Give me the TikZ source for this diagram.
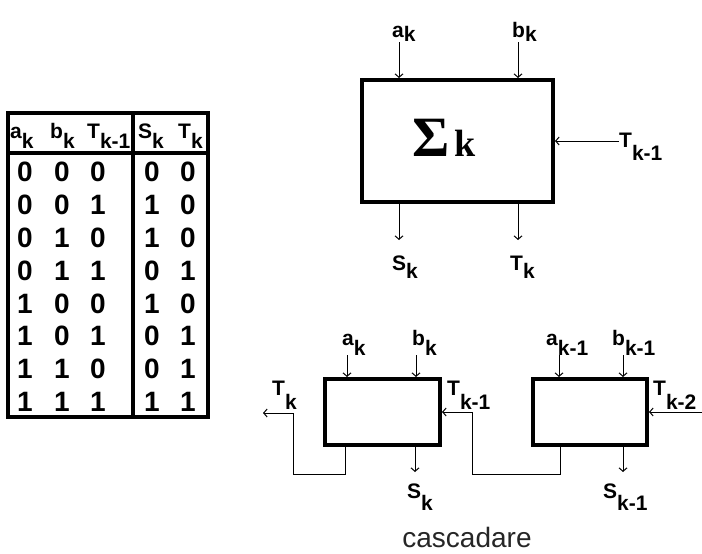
\documentclass[tikz,border=0pt]{standalone}
\usepackage{fontspec}
\setmainfont{Liberation Sans}
\newfontfamily\serifb{Liberation Serif}
\usetikzlibrary{arrows.meta}
\newcommand{\lsub}[3]{#2\raisebox{-#1}{#3}}
\begin{document}
\begin{tikzpicture}[x=1pt,y=-1pt,
  lab/.style={font=\bfseries\fontsize{21}{23}\selectfont, inner sep=0pt, anchor=base west},
  dig/.style={font=\bfseries\fontsize{28}{30}\selectfont, inner sep=0pt},
  arr/.style={line width=1pt, -{Straight Barb[length=3.5pt,width=8pt]}},
  wire/.style={line width=1pt},
  blk/.style={draw, line width=4pt, inner sep=0pt},
  tab/.style={line width=3.5pt},
  captxt/.style={font=\fontsize{28}{30}\selectfont, text=black!85, inner sep=0pt, anchor=base}
]
\useasboundingbox (0,0) rectangle (702,554);

% ---------- truth table ----------
\draw[tab] (8,113) rectangle (208,417);
\draw[tab] (8,153) -- (208,153);
\draw[tab] (133,113) -- (133,417);
\node[lab] (ha) at (10,138) {\lsub{10pt}{a}{k}};
\node[lab] (hb) at (50,138) {\lsub{10pt}{b}{k}};
\node[lab] (ht) at (87,138) {\lsub{10pt}{T}{k-1}};
\node[lab] (hs) at (138,138) {\lsub{10pt}{S}{k}};
\node[lab] (htk) at (178,138) {\lsub{10pt}{T}{k}};
\foreach \a/\b/\c/\s/\t [count=\i from 0] in
  {0/0/0/0/0, 0/0/1/1/0, 0/1/0/1/0, 0/1/1/0/1,
   1/0/0/1/0, 1/0/1/0/1, 1/1/0/0/1, 1/1/1/1/1} {
  \node[dig] (r\i-1) at (25,{172+32.86*\i}) {\a};
  \node[dig] (r\i-2) at (62,{172+32.86*\i}) {\b};
  \node[dig] (r\i-3) at (98,{172+32.86*\i}) {\c};
  \node[dig] (r\i-4) at (152,{172+32.86*\i}) {\s};
  \node[dig] (r\i-5) at (188,{172+32.86*\i}) {\t};
}

% ---------- single adder ----------
\node[blk, minimum width=191pt, minimum height=122pt] (sum) at (457.5,141) {};
\node[anchor=base west, inner sep=0pt, font=\serifb\bfseries\fontsize{57}{57}\selectfont]
  (sig) at (412,156) {Σ\hspace{5pt}{\fontsize{38}{38}\selectfont k}};
\node[lab] (ta) at (392,37) {\lsub{5pt}{a}{k}};
\node[lab] (tb) at (512,37) {\lsub{5pt}{b}{k}};
\node[lab] (tt) at (619,147) {\lsub{13pt}{T}{k-1}};
\node[lab] (ts) at (392,270) {\lsub{8pt}{S}{k}};
\node[lab] (ttk) at (510,270) {\lsub{8pt}{T}{k}};
\coordinate (xa) at (399,0);
\coordinate (xb) at (518,0);
\draw[arr] (xa |- ta.south) -- (sum.north -| xa);
\draw[arr] (xb |- ta.south) -- (sum.north -| xb);
\draw[arr] (tt.west |- sum.east) -- (sum.east);
\draw[arr] (sum.south -| xa) -- (xa |- 0,240);
\draw[arr] (sum.south -| xb) -- (xb |- 0,240);

% ---------- cascade ----------
\node[blk, minimum width=115pt, minimum height=66pt] (b1) at (382.5,412) {};
\node[blk, minimum width=114pt, minimum height=66pt] (b2) at (590,412) {};
\node[lab] (ca1) at (342,345) {\lsub{10pt}{a}{k}};
\node[lab] (cb1) at (412,345) {\lsub{10pt}{b}{k}};
\node[lab] (ca2) at (546,345) {\lsub{10pt}{a}{k-1}};
\node[lab] (cb2) at (612,345) {\lsub{10pt}{b}{k-1}};
\node[lab] (ct0) at (272,395) {\lsub{14pt}{T}{k}};
\node[lab] (ct1) at (447,395) {\lsub{14pt}{T}{k-1}};
\node[lab] (ct2) at (653,395) {\lsub{14pt}{T}{k-2}};
\node[lab] (cs1) at (407,498) {\lsub{12pt}{S}{k}};
\node[lab] (cs2) at (603,498) {\lsub{12pt}{S}{k-1}};
\node[captxt] (cap) at (467,547) {cascadare};

\draw[arr] (347,355) -- (b1.north -| 347,0);
\draw[arr] (416,355) -- (b1.north -| 416,0);
\draw[arr] (559,355) -- (b2.north -| 559,0);
\draw[arr] (623,355) -- (b2.north -| 623,0);
\draw[arr] (b1.south -| 415,0) -- (415,472);
\draw[arr] (b2.south -| 623,0) -- (623,472);
\coordinate (tin) at (702,412);
\draw[arr] (tin) -- (b2.east);
\draw[arr] (b2.south -| 560,0) |- (472,474) |- (b1.east);
\coordinate (tout) at (263,413);
\draw[arr] (b1.south -| 345,0) |- (293,474) |- (tout);
\end{tikzpicture}
\end{document}
